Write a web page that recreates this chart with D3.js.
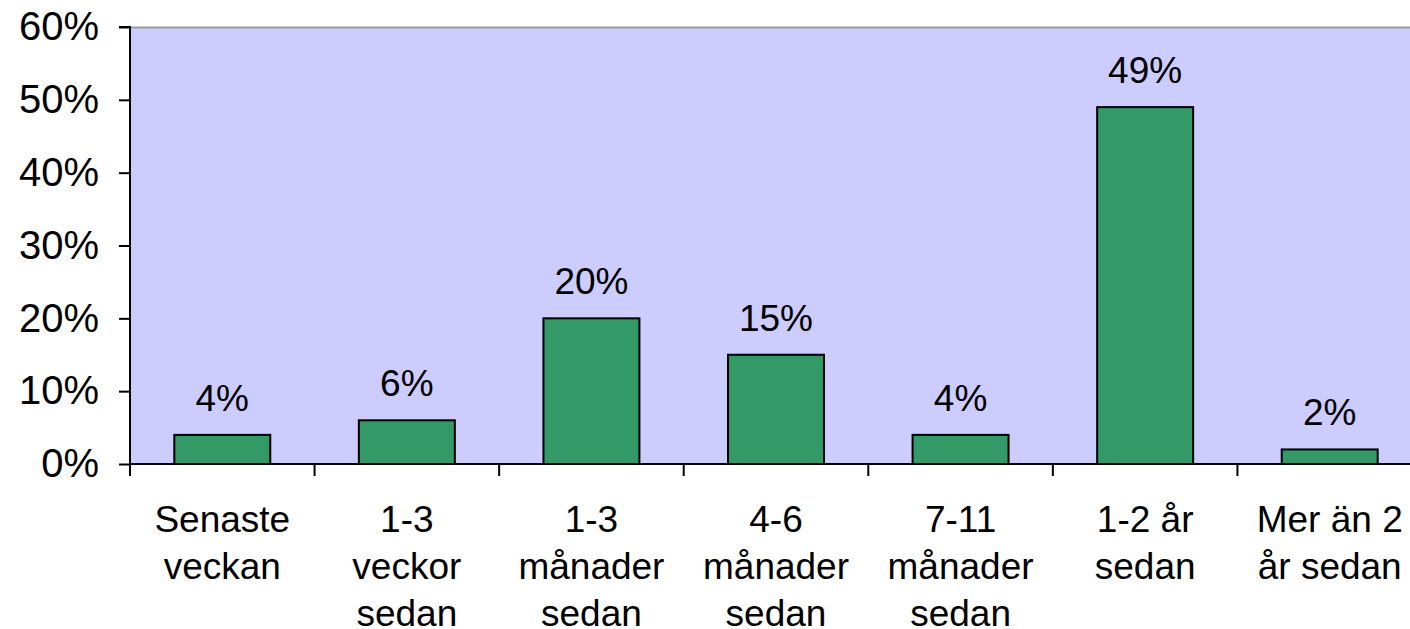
<!DOCTYPE html>
<html lang="sv">
<head>
  <meta charset="UTF-8">
  <style>
    body { margin: 0; overflow: hidden; background: #fff; }
    svg { display: block; font-family: "Liberation Sans", Arial, sans-serif; }
  </style>
  <script src="https://d3js.org/d3.v7.min.js"></script>
</head>
<body>
<svg id="chart"></svg>
<script>
  // data
  const categories = [
    ["Senaste", "veckan"],
    ["1-3", "veckor", "sedan"],
    ["1-3", "månader", "sedan"],
    ["4-6", "månader", "sedan"],
    ["7-11", "månader", "sedan"],
    ["1-2 år", "sedan"],
    ["Mer än 2", "år sedan"]
  ];
  const values = [0.04, 0.06, 0.20, 0.15, 0.04, 0.49, 0.02];
  const yTicks = [0, 0.1, 0.2, 0.3, 0.4, 0.5, 0.6];

  const W = 1410, H = 629;
  const plotLeft = 130, plotTop = 27, plotBottom = 464;
  const plotRight = 1422; // plot runs slightly past the picture edge

  const svg = d3.select("#chart").attr("width", W).attr("height", H);

  const x = d3.scaleBand()
    .domain(d3.range(categories.length))
    .range([plotLeft, plotRight])
    .paddingInner(0.48)
    .paddingOuter(0.24);

  const y = d3.scaleLinear().domain([0, 0.6]).range([plotBottom, plotTop]);

  // plot background
  svg.append("rect")
    .attr("x", plotLeft).attr("y", plotTop)
    .attr("width", plotRight - plotLeft).attr("height", plotBottom - plotTop)
    .attr("fill", "#ccccff");
  svg.append("line")
    .attr("x1", plotLeft).attr("x2", plotRight)
    .attr("y1", plotTop + 0.5).attr("y2", plotTop + 0.5)
    .attr("stroke", "#999").attr("stroke-width", 2);

  // bars
  svg.selectAll("rect.bar")
    .data(values)
    .join("rect")
    .attr("class", "bar")
    .attr("x", (d, i) => x(i))
    .attr("y", d => y(d))
    .attr("width", x.bandwidth())
    .attr("height", d => plotBottom - y(d))
    .attr("fill", "#339966")
    .attr("stroke", "#000")
    .attr("stroke-width", 2);

  // value labels
  svg.selectAll("text.val")
    .data(values)
    .join("text")
    .attr("class", "val")
    .attr("x", (d, i) => x(i) + x.bandwidth() / 2)
    .attr("y", d => y(d) - 24)
    .attr("text-anchor", "middle")
    .attr("font-size", 37)
    .text(d => d3.format(".0%")(d));

  // y axis
  const yAxis = svg.append("g")
    .attr("transform", `translate(${plotLeft},0)`)
    .call(d3.axisLeft(y).tickValues(yTicks).tickFormat(d3.format(".0%")).tickSize(11).tickPadding(20));
  yAxis.select(".domain").attr("stroke-width", 2).attr("d", `M-11,${plotTop}H0V${plotBottom}`);
  yAxis.selectAll(".tick line").attr("stroke-width", 2);
  yAxis.selectAll(".tick text")
    .attr("font-size", 40)
    .attr("font-family", "Liberation Sans, Arial, sans-serif")
    .attr("fill", "#000");

  // x axis line and category separators
  const bandStep = x.step();
  const sepX = d3.range(categories.length + 1).map(i => plotLeft + i * bandStep);
  svg.append("line")
    .attr("x1", plotLeft).attr("x2", plotRight)
    .attr("y1", plotBottom).attr("y2", plotBottom)
    .attr("stroke", "#000").attr("stroke-width", 2);
  svg.selectAll("line.sep")
    .data(sepX)
    .join("line")
    .attr("class", "sep")
    .attr("x1", d => d).attr("x2", d => d)
    .attr("y1", plotBottom).attr("y2", plotBottom + 12)
    .attr("stroke", "#000").attr("stroke-width", 2);

  // category labels
  const cat = svg.selectAll("text.cat")
    .data(categories)
    .join("text")
    .attr("class", "cat")
    .attr("text-anchor", "middle")
    .attr("font-size", 37);
  cat.each(function(lines, i) {
    const cx = x(i) + x.bandwidth() / 2;
    d3.select(this).selectAll("tspan")
      .data(lines)
      .join("tspan")
      .attr("x", cx)
      .attr("y", (d, j) => 532 + j * 47)
      .text(d => d);
  });
</script>
</body>
</html>
